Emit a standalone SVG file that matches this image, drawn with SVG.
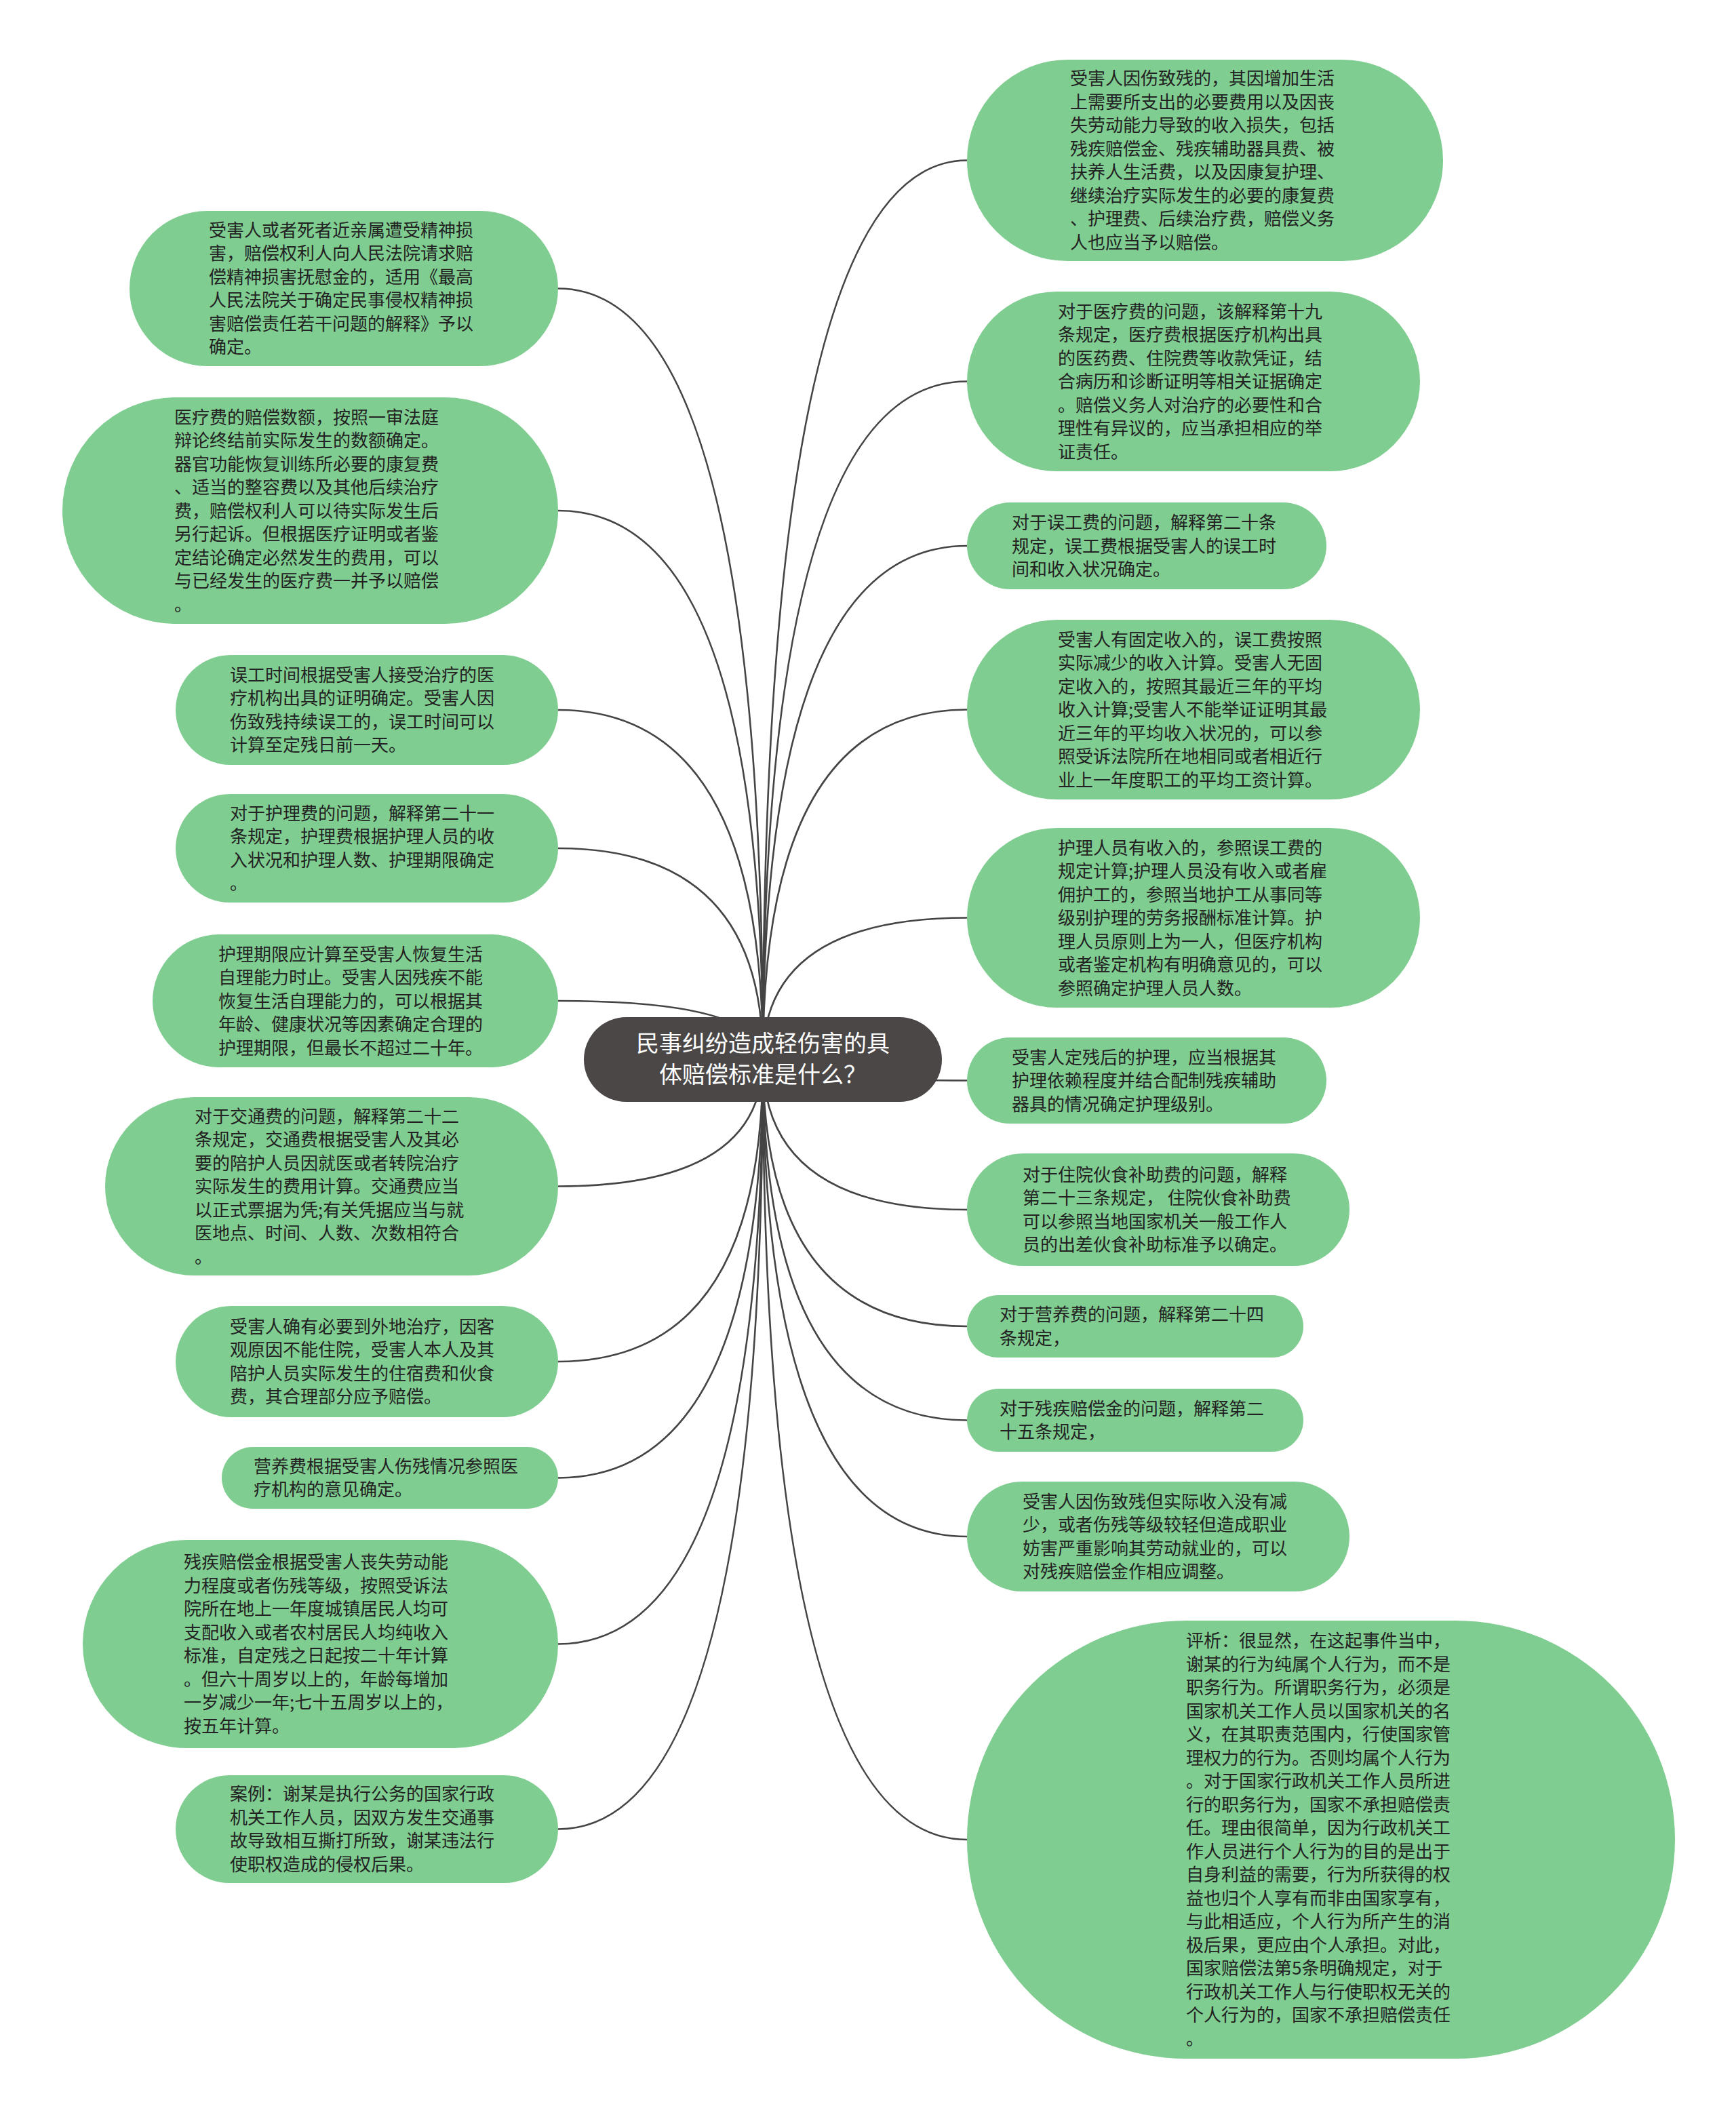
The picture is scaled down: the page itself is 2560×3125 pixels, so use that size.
<svg xmlns="http://www.w3.org/2000/svg" width="2560" height="3125" viewBox="0 0 2560 3125">
<style>
.bg{fill:#ffffff}
.conn{fill:none;stroke:#444444;stroke-width:2.6}
.leaf{fill:#80cd91}
.root{fill:#4b4747}
.t{font-family:"Noto Sans CJK SC","Noto Sans",sans-serif;font-size:26px;fill:#222222}
.rt{font-family:"Noto Sans CJK SC","Noto Sans",sans-serif;font-size:34px;fill:#ffffff;text-anchor:middle}
</style>
<rect class="bg" x="0" y="0" width="2560" height="3125"/>
<g id="connectors">
<path class="conn" d="M1125,1562 Q1125,425.5 823,425.5"/>
<path class="conn" d="M1125,1562 Q1125,753 823,753"/>
<path class="conn" d="M1125,1562 Q1125,1047 823,1047"/>
<path class="conn" d="M1125,1562 Q1125,1251 823,1251"/>
<path class="conn" d="M1125,1562 Q1125,1476 823,1476"/>
<path class="conn" d="M1125,1562 Q1125,1749.5 823,1749.5"/>
<path class="conn" d="M1125,1562 Q1125,2008 823,2008"/>
<path class="conn" d="M1125,1562 Q1125,2179.5 823,2179.5"/>
<path class="conn" d="M1125,1562 Q1125,2424.5 823,2424.5"/>
<path class="conn" d="M1125,1562 Q1125,2697.5 823,2697.5"/>
<path class="conn" d="M1125,1562 Q1125,236.5 1426,236.5"/>
<path class="conn" d="M1125,1562 Q1125,562.5 1426,562.5"/>
<path class="conn" d="M1125,1562 Q1125,805 1426,805"/>
<path class="conn" d="M1125,1562 Q1125,1046.5 1426,1046.5"/>
<path class="conn" d="M1125,1562 Q1125,1353.5 1426,1353.5"/>
<path class="conn" d="M1125,1562 Q1125,1593.5 1426,1593.5"/>
<path class="conn" d="M1125,1562 Q1125,1784 1426,1784"/>
<path class="conn" d="M1125,1562 Q1125,1956 1426,1956"/>
<path class="conn" d="M1125,1562 Q1125,2094.5 1426,2094.5"/>
<path class="conn" d="M1125,1562 Q1125,2266 1426,2266"/>
<path class="conn" d="M1125,1562 Q1125,2713 1426,2713"/>
</g>
<g id="root">
<rect class="root" x="861" y="1500" width="528" height="125" rx="62.5" ry="62.5"/>
<text class="rt" x="1125" y="1551">民事纠纷造成轻伤害的具</text>
<text class="rt" x="1125" y="1597">体赔偿标准是什么？</text>
</g>
<g id="L1">
<rect class="leaf" x="191" y="311" width="632" height="229" rx="114.5"/>
<text class="t" y="348.75"><tspan x="308">受害人或者死者近亲属遭受精神损</tspan><tspan x="308" dy="34.5">害，赔偿权利人向人民法院请求赔</tspan><tspan x="308" dy="34.5">偿精神损害抚慰金的，适用《最高</tspan><tspan x="308" dy="34.5">人民法院关于确定民事侵权精神损</tspan><tspan x="308" dy="34.5">害赔偿责任若干问题的解释》予以</tspan><tspan x="308" dy="34.5">确定。</tspan></text>
</g>
<g id="L2">
<rect class="leaf" x="92" y="586" width="731" height="334" rx="167"/>
<text class="t" y="624.5"><tspan x="257">医疗费的赔偿数额，按照一审法庭</tspan><tspan x="257" dy="34.5">辩论终结前实际发生的数额确定。</tspan><tspan x="257" dy="34.5">器官功能恢复训练所必要的康复费</tspan><tspan x="257" dy="34.5">、适当的整容费以及其他后续治疗</tspan><tspan x="257" dy="34.5">费，赔偿权利人可以待实际发生后</tspan><tspan x="257" dy="34.5">另行起诉。但根据医疗证明或者鉴</tspan><tspan x="257" dy="34.5">定结论确定必然发生的费用，可以</tspan><tspan x="257" dy="34.5">与已经发生的医疗费一并予以赔偿</tspan><tspan x="257" dy="34.5">。</tspan></text>
</g>
<g id="L3">
<rect class="leaf" x="259" y="966" width="564" height="162" rx="81"/>
<text class="t" y="1004.75"><tspan x="339">误工时间根据受害人接受治疗的医</tspan><tspan x="339" dy="34.5">疗机构出具的证明确定。受害人因</tspan><tspan x="339" dy="34.5">伤致残持续误工的，误工时间可以</tspan><tspan x="339" dy="34.5">计算至定残日前一天。</tspan></text>
</g>
<g id="L4">
<rect class="leaf" x="259" y="1171" width="564" height="160" rx="80"/>
<text class="t" y="1208.75"><tspan x="339">对于护理费的问题，解释第二十一</tspan><tspan x="339" dy="34.5">条规定，护理费根据护理人员的收</tspan><tspan x="339" dy="34.5">入状况和护理人数、护理期限确定</tspan><tspan x="339" dy="34.5">。</tspan></text>
</g>
<g id="L5">
<rect class="leaf" x="225" y="1378" width="598" height="196" rx="98"/>
<text class="t" y="1416.5"><tspan x="322">护理期限应计算至受害人恢复生活</tspan><tspan x="322" dy="34.5">自理能力时止。受害人因残疾不能</tspan><tspan x="322" dy="34.5">恢复生活自理能力的，可以根据其</tspan><tspan x="322" dy="34.5">年龄、健康状况等因素确定合理的</tspan><tspan x="322" dy="34.5">护理期限，但最长不超过二十年。</tspan></text>
</g>
<g id="L6">
<rect class="leaf" x="155" y="1618" width="668" height="263" rx="131.5"/>
<text class="t" y="1655.5"><tspan x="287">对于交通费的问题，解释第二十二</tspan><tspan x="287" dy="34.5">条规定，交通费根据受害人及其必</tspan><tspan x="287" dy="34.5">要的陪护人员因就医或者转院治疗</tspan><tspan x="287" dy="34.5">实际发生的费用计算。交通费应当</tspan><tspan x="287" dy="34.5">以正式票据为凭;有关凭据应当与就</tspan><tspan x="287" dy="34.5">医地点、时间、人数、次数相符合</tspan><tspan x="287" dy="34.5">。</tspan></text>
</g>
<g id="L7">
<rect class="leaf" x="259" y="1926" width="564" height="164" rx="82"/>
<text class="t" y="1965.75"><tspan x="339">受害人确有必要到外地治疗，因客</tspan><tspan x="339" dy="34.5">观原因不能住院，受害人本人及其</tspan><tspan x="339" dy="34.5">陪护人员实际发生的住宿费和伙食</tspan><tspan x="339" dy="34.5">费，其合理部分应予赔偿。</tspan></text>
</g>
<g id="L8">
<rect class="leaf" x="327" y="2134" width="496" height="91" rx="45.5"/>
<text class="t" y="2171.75"><tspan x="374">营养费根据受害人伤残情况参照医</tspan><tspan x="374" dy="34.5">疗机构的意见确定。</tspan></text>
</g>
<g id="L9">
<rect class="leaf" x="122" y="2271" width="701" height="307" rx="153.5"/>
<text class="t" y="2313.25"><tspan x="271">残疾赔偿金根据受害人丧失劳动能</tspan><tspan x="271" dy="34.5">力程度或者伤残等级，按照受诉法</tspan><tspan x="271" dy="34.5">院所在地上一年度城镇居民人均可</tspan><tspan x="271" dy="34.5">支配收入或者农村居民人均纯收入</tspan><tspan x="271" dy="34.5">标准，自定残之日起按二十年计算</tspan><tspan x="271" dy="34.5">。但六十周岁以上的，年龄每增加</tspan><tspan x="271" dy="34.5">一岁减少一年;七十五周岁以上的，</tspan><tspan x="271" dy="34.5">按五年计算。</tspan></text>
</g>
<g id="L10">
<rect class="leaf" x="259" y="2618" width="564" height="159" rx="79.5"/>
<text class="t" y="2655.25"><tspan x="339">案例：谢某是执行公务的国家行政</tspan><tspan x="339" dy="34.5">机关工作人员，因双方发生交通事</tspan><tspan x="339" dy="34.5">故导致相互撕打所致，谢某违法行</tspan><tspan x="339" dy="34.5">使职权造成的侵权后果。</tspan></text>
</g>
<g id="R1">
<rect class="leaf" x="1426" y="88" width="702" height="297" rx="148.5"/>
<text class="t" y="125.25"><tspan x="1578">受害人因伤致残的，其因增加生活</tspan><tspan x="1578" dy="34.5">上需要所支出的必要费用以及因丧</tspan><tspan x="1578" dy="34.5">失劳动能力导致的收入损失，包括</tspan><tspan x="1578" dy="34.5">残疾赔偿金、残疾辅助器具费、被</tspan><tspan x="1578" dy="34.5">扶养人生活费，以及因康复护理、</tspan><tspan x="1578" dy="34.5">继续治疗实际发生的必要的康复费</tspan><tspan x="1578" dy="34.5">、护理费、后续治疗费，赔偿义务</tspan><tspan x="1578" dy="34.5">人也应当予以赔偿。</tspan></text>
</g>
<g id="R2">
<rect class="leaf" x="1426" y="430" width="668" height="265" rx="132.5"/>
<text class="t" y="468.5"><tspan x="1560">对于医疗费的问题，该解释第十九</tspan><tspan x="1560" dy="34.5">条规定，医疗费根据医疗机构出具</tspan><tspan x="1560" dy="34.5">的医药费、住院费等收款凭证，结</tspan><tspan x="1560" dy="34.5">合病历和诊断证明等相关证据确定</tspan><tspan x="1560" dy="34.5">。赔偿义务人对治疗的必要性和合</tspan><tspan x="1560" dy="34.5">理性有异议的，应当承担相应的举</tspan><tspan x="1560" dy="34.5">证责任。</tspan></text>
</g>
<g id="R3">
<rect class="leaf" x="1426" y="741" width="530" height="128" rx="64"/>
<text class="t" y="780"><tspan x="1492">对于误工费的问题，解释第二十条</tspan><tspan x="1492" dy="34.5">规定，误工费根据受害人的误工时</tspan><tspan x="1492" dy="34.5">间和收入状况确定。</tspan></text>
</g>
<g id="R4">
<rect class="leaf" x="1426" y="914" width="668" height="265" rx="132.5"/>
<text class="t" y="952.5"><tspan x="1560">受害人有固定收入的，误工费按照</tspan><tspan x="1560" dy="34.5">实际减少的收入计算。受害人无固</tspan><tspan x="1560" dy="34.5">定收入的，按照其最近三年的平均</tspan><tspan x="1560" dy="34.5">收入计算;受害人不能举证证明其最</tspan><tspan x="1560" dy="34.5">近三年的平均收入状况的，可以参</tspan><tspan x="1560" dy="34.5">照受诉法院所在地相同或者相近行</tspan><tspan x="1560" dy="34.5">业上一年度职工的平均工资计算。</tspan></text>
</g>
<g id="R5">
<rect class="leaf" x="1426" y="1221" width="668" height="265" rx="132.5"/>
<text class="t" y="1259.5"><tspan x="1560">护理人员有收入的，参照误工费的</tspan><tspan x="1560" dy="34.5">规定计算;护理人员没有收入或者雇</tspan><tspan x="1560" dy="34.5">佣护工的，参照当地护工从事同等</tspan><tspan x="1560" dy="34.5">级别护理的劳务报酬标准计算。护</tspan><tspan x="1560" dy="34.5">理人员原则上为一人，但医疗机构</tspan><tspan x="1560" dy="34.5">或者鉴定机构有明确意见的，可以</tspan><tspan x="1560" dy="34.5">参照确定护理人员人数。</tspan></text>
</g>
<g id="R6">
<rect class="leaf" x="1426" y="1530" width="530" height="127" rx="63.5"/>
<text class="t" y="1568.5"><tspan x="1492">受害人定残后的护理，应当根据其</tspan><tspan x="1492" dy="34.5">护理依赖程度并结合配制残疾辅助</tspan><tspan x="1492" dy="34.5">器具的情况确定护理级别。</tspan></text>
</g>
<g id="R7">
<rect class="leaf" x="1426" y="1701" width="564" height="166" rx="83"/>
<text class="t" y="1741.75"><tspan x="1508">对于住院伙食补助费的问题，解释</tspan><tspan x="1508" dy="34.5">第二十三条规定， 住院伙食补助费</tspan><tspan x="1508" dy="34.5">可以参照当地国家机关一般工作人</tspan><tspan x="1508" dy="34.5">员的出差伙食补助标准予以确定。</tspan></text>
</g>
<g id="R8">
<rect class="leaf" x="1426" y="1910" width="496" height="92" rx="46"/>
<text class="t" y="1948.25"><tspan x="1474">对于营养费的问题，解释第二十四</tspan><tspan x="1474" dy="34.5">条规定，</tspan></text>
</g>
<g id="R9">
<rect class="leaf" x="1426" y="2048" width="496" height="93" rx="46.5"/>
<text class="t" y="2086.75"><tspan x="1474">对于残疾赔偿金的问题，解释第二</tspan><tspan x="1474" dy="34.5">十五条规定，</tspan></text>
</g>
<g id="R10">
<rect class="leaf" x="1426" y="2185" width="564" height="162" rx="81"/>
<text class="t" y="2223.75"><tspan x="1508">受害人因伤致残但实际收入没有减</tspan><tspan x="1508" dy="34.5">少，或者伤残等级较轻但造成职业</tspan><tspan x="1508" dy="34.5">妨害严重影响其劳动就业的，可以</tspan><tspan x="1508" dy="34.5">对残疾赔偿金作相应调整。</tspan></text>
</g>
<g id="R11">
<rect class="leaf" x="1426" y="2390" width="1044" height="646" rx="323"/>
<text class="t" y="2429.25"><tspan x="1749">评析：很显然，在这起事件当中，</tspan><tspan x="1749" dy="34.5">谢某的行为纯属个人行为，而不是</tspan><tspan x="1749" dy="34.5">职务行为。所谓职务行为，必须是</tspan><tspan x="1749" dy="34.5">国家机关工作人员以国家机关的名</tspan><tspan x="1749" dy="34.5">义，在其职责范围内，行使国家管</tspan><tspan x="1749" dy="34.5">理权力的行为。否则均属个人行为</tspan><tspan x="1749" dy="34.5">。对于国家行政机关工作人员所进</tspan><tspan x="1749" dy="34.5">行的职务行为，国家不承担赔偿责</tspan><tspan x="1749" dy="34.5">任。理由很简单，因为行政机关工</tspan><tspan x="1749" dy="34.5">作人员进行个人行为的目的是出于</tspan><tspan x="1749" dy="34.5">自身利益的需要，行为所获得的权</tspan><tspan x="1749" dy="34.5">益也归个人享有而非由国家享有，</tspan><tspan x="1749" dy="34.5">与此相适应，个人行为所产生的消</tspan><tspan x="1749" dy="34.5">极后果，更应由个人承担。对此，</tspan><tspan x="1749" dy="34.5">国家赔偿法第5条明确规定，对于</tspan><tspan x="1749" dy="34.5">行政机关工作人与行使职权无关的</tspan><tspan x="1749" dy="34.5">个人行为的，国家不承担赔偿责任</tspan><tspan x="1749" dy="34.5">。</tspan></text>
</g>
</svg>
